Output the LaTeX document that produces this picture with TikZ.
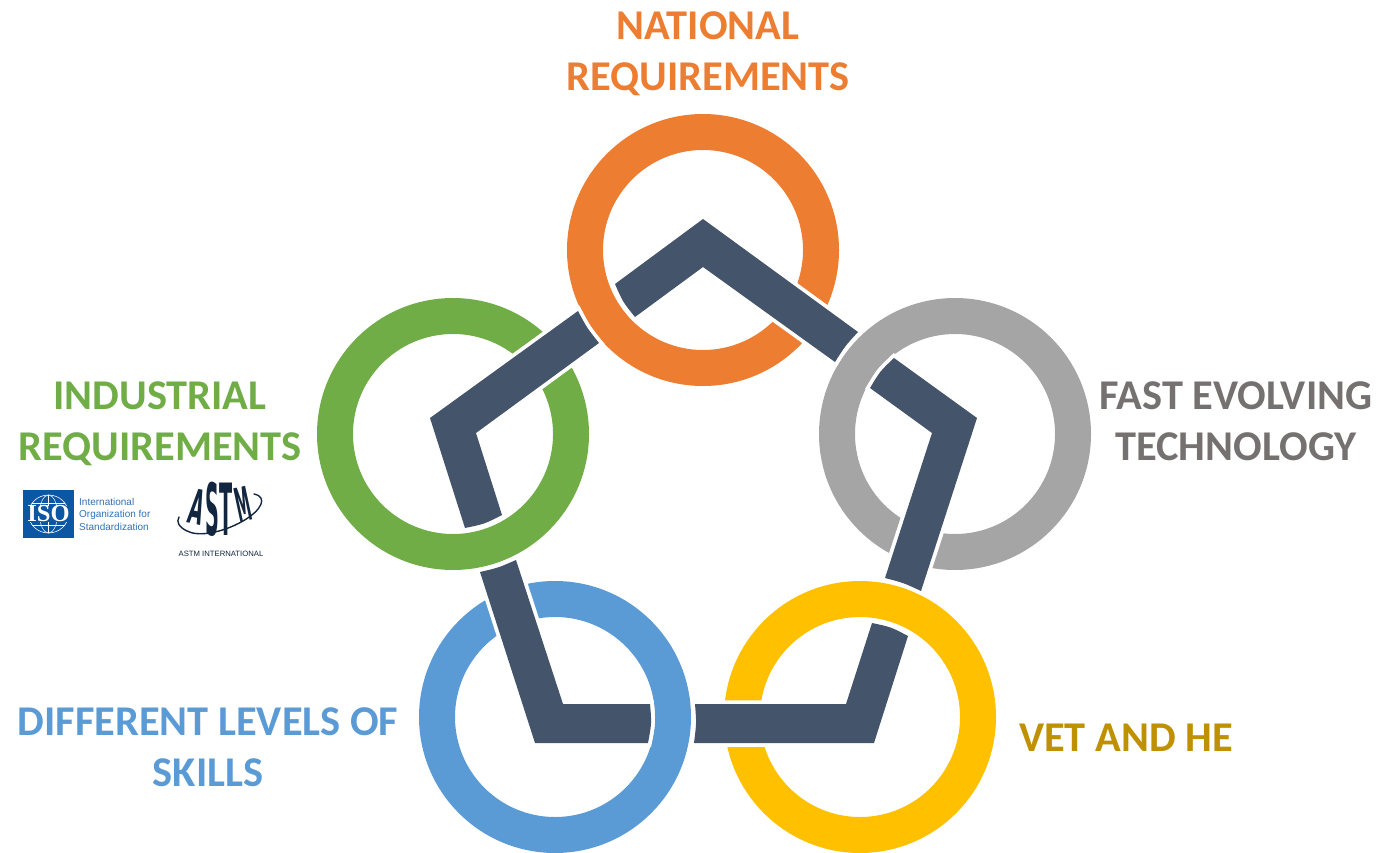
\documentclass[tikz,border=0pt]{standalone}
\usepackage{fontspec}
\setmainfont{Carlito}
\newfontfamily\logosans{Liberation Sans}
\newfontfamily\logoserif{Liberation Serif}
\newfontfamily\logoheavy{DejaVu Sans}
\definecolor{cOrange}{HTML}{ED7D31}
\definecolor{cGray}{HTML}{A5A5A5}
\definecolor{cYellow}{HTML}{FFC000}
\definecolor{cBlue}{HTML}{5B9BD5}
\definecolor{cGreen}{HTML}{70AD47}
\definecolor{cDark}{HTML}{44546A}
\definecolor{tGray}{HTML}{767171}
\definecolor{tGold}{HTML}{BF9000}
\definecolor{isoBlue}{HTML}{0B57A4}
\definecolor{astmNavy}{HTML}{12263F}
\tikzset{
  ringshape/.style={line width=36pt,draw=#1,fill=none},
  halo/.style={draw=white,line width=7.5pt,miter limit=10},
  barfill/.style={fill=cDark,draw=none},
  lbl/.style={font=\fontsize{42.4}{51}\selectfont\bfseries,align=center,inner sep=0pt,text=#1},
  isotext/.style={font=\logosans\fontsize{10}{12.5}\selectfont,align=left,text=isoBlue!85!white,inner sep=0pt,anchor=west},
  astmletter/.style={font=\logoheavy\bfseries\fontsize{24}{24}\selectfont,text=astmNavy,inner sep=0pt}
}
\newcommand{\barpiece}[1]{\draw[halo] #1; \fill[barfill] #1;}
\begin{document}
\begin{tikzpicture}[x=1pt,y=-1pt]
\useasboundingbox (0,0) rectangle (1378,853);
% rings
\draw[ringshape=cOrange] (703,250) circle[radius=118pt];
\draw[ringshape=cGray] (955,434) circle[radius=118pt];
\draw[ringshape=cYellow] (860,717) circle[radius=118pt];
\draw[ringshape=cBlue] (555,717) circle[radius=118pt];
\draw[ringshape=cGreen] (453,434) circle[radius=118pt];
% bars
\barpiece{(615,284) -- (703,219) -- (858,332) .. controls (845.2,345.9) .. (835,362) -- (703,267) -- (635,317) .. controls (622.8,301.9) .. cycle}
\barpiece{(894,358) -- (977,418) -- (921,591) .. controls (903.5,582.8) .. (885,578) -- (932,433) -- (870,388) .. controls (880,371.3) .. cycle}
\barpiece{(872,623) -- (846,704) -- (695,704) .. controls (696.5,723.2) .. (694,743) -- (874,743) -- (908,636) .. controls (890.9,627) .. cycle}
\barpiece{(650,704) -- (563,704) -- (516,560) .. controls (498.5,567.7) .. (480,572) -- (535,743) -- (648,743) .. controls (651.7,723.2) .. cycle}
\barpiece{(465,528) -- (430,418) -- (578,311) .. controls (587,328) .. (599,343) -- (476,433) -- (502,515) .. controls (484.4,524) .. cycle}
% labels
\node[lbl=cOrange] (national) at (708,53.5) {NATIONAL\\REQUIREMENTS};
\node[lbl=tGray] (fast) at (1236,421) {FAST EVOLVING\\TECHNOLOGY};
\node[lbl=cGreen] (industrial) at (160,424) {INDUSTRIAL\\REQUIREMENTS};
\node[lbl=cBlue] (levels) at (208,747) {DIFFERENT LEVELS OF\\SKILLS};
\node[lbl=tGold] (vet) at (1126,737.5) {VET AND HE};
% ISO logo
\fill[isoBlue] (23,490) rectangle (74,538);
\draw[white,line width=.6pt] (48.5,514) ellipse[x radius=20pt,y radius=19pt];
\draw[white,line width=.5pt] (48.5,514) ellipse[x radius=9pt,y radius=19pt];
\draw[white,line width=.5pt] (32,503) -- (65,503) (32,525) -- (65,525) (48.5,495) -- (48.5,533);
\node[font=\logoserif\bfseries\fontsize{24.5}{24.5}\selectfont,text=white,inner sep=0pt,fill=isoBlue] (iso) at (48.5,514) {ISO};
\node[isotext] (isoname) at (79,514) {International\\Organization for\\Standardization};
% ASTM logo
\node[astmletter,rotate=-12,yscale=2.0,xscale=.78] (la) at (197,507) {A};
\node[astmletter,yscale=3.0,xscale=.8] (ls) at (212.5,509.5) {S};
\node[astmletter,yscale=3.0,xscale=.8] (lt) at (226.5,509.5) {T};
\node[astmletter,rotate=12,yscale=1.95,xscale=.62] (lm) at (243,504) {M};
\draw[astmNavy,line width=1.4pt,line cap=round] (254,494) .. controls (268,497) and (262,510) .. (243,521) .. controls (222,533) and (198,537) .. (187,531) .. controls (179,527) and (176,522) .. (179,517);
\node[font=\logosans\fontsize{7.7}{8}\selectfont,text=astmNavy,inner sep=0pt] (astm) at (221,553.5) {ASTM INTERNATIONAL};
\end{tikzpicture}
\end{document}
